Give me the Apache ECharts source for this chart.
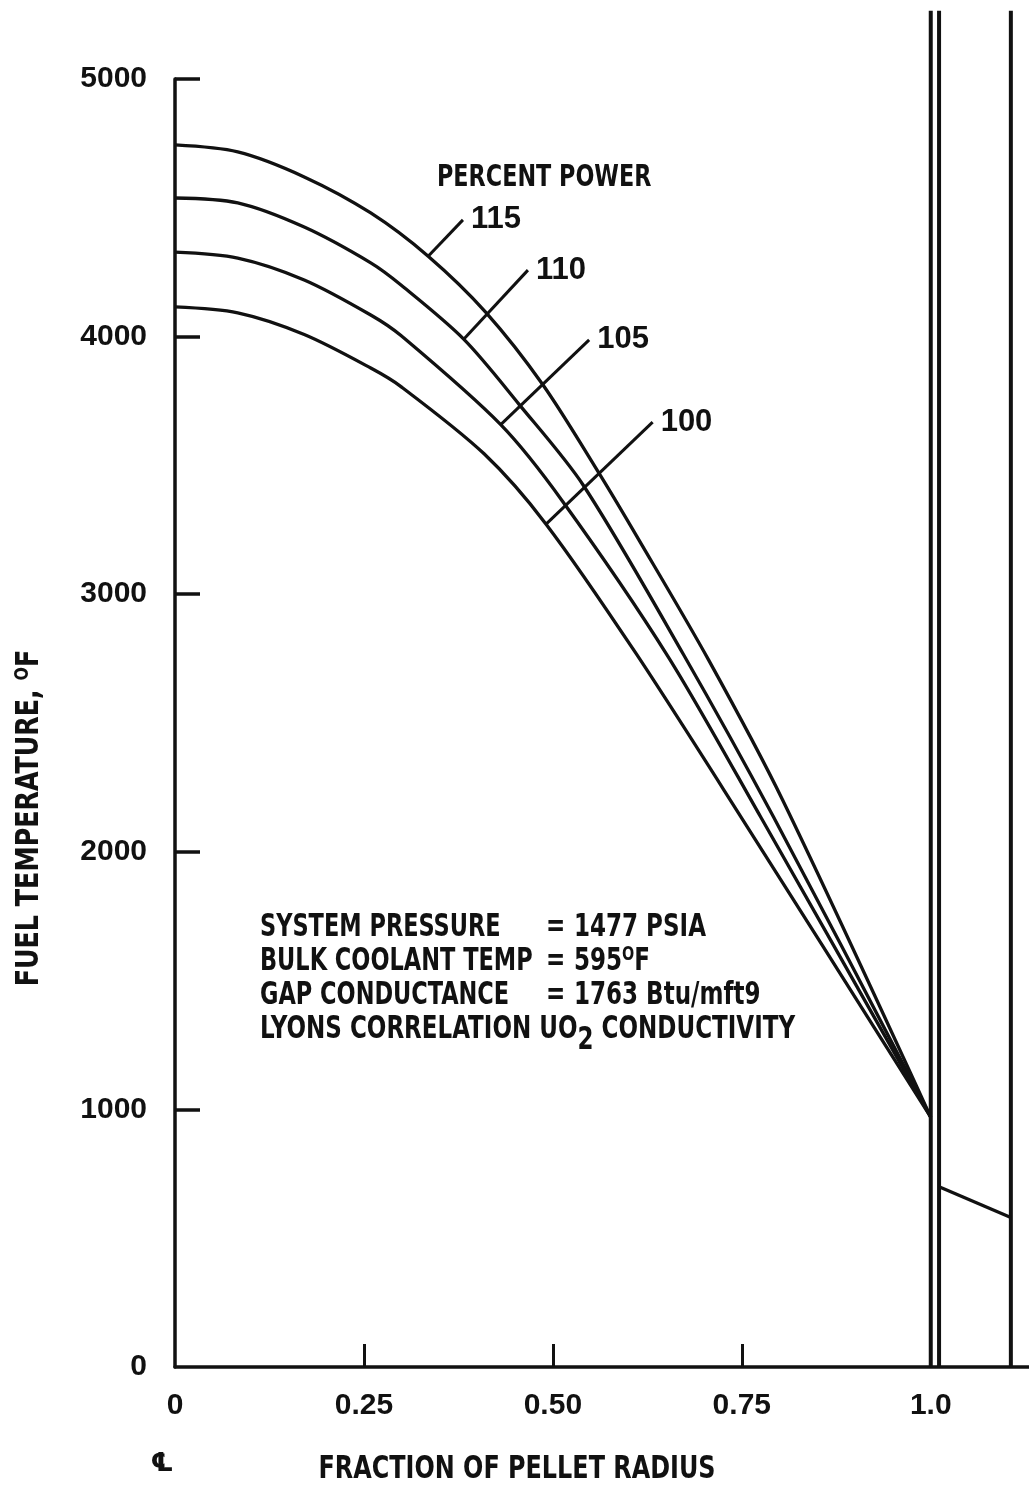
<!DOCTYPE html>
<html>
<head>
<meta charset="utf-8">
<title>Fuel temperature vs fraction of pellet radius</title>
<script src="https://cdn.jsdelivr.net/npm/echarts@6/dist/echarts.min.js"></script>
<style>
  html, body { margin: 0; padding: 0; background: #ffffff; }
  #chart { width: 1029px; height: 1493px; }
</style>
</head>
<body>
<div id="chart"></div>
<script>
// Radial fuel temperature profiles (°F) at four power levels, [fraction of radius, temperature]
const power115 = [[0, 4744], [0.083, 4717], [0.171, 4620], [0.259, 4480], [0.335, 4312], [0.411, 4095], [0.487, 3812], [0.561, 3470], [0.614, 3210], [0.706, 2745], [0.804, 2201], [1.0, 970]];
const power110 = [[0, 4538], [0.083, 4519], [0.171, 4425], [0.259, 4286], [0.299, 4200], [0.382, 3990], [0.455, 3738], [0.540, 3424], [0.673, 2765], [0.792, 2135], [1.0, 970]];
const power105 = [[0, 4328], [0.083, 4305], [0.171, 4220], [0.259, 4084], [0.299, 4004], [0.431, 3658], [0.513, 3360], [0.652, 2760], [0.775, 2135], [1.0, 970]];
const power100 = [[0, 4115], [0.083, 4092], [0.171, 4008], [0.259, 3878], [0.299, 3806], [0.409, 3545], [0.491, 3272], [0.610, 2770], [0.749, 2135], [1.0, 970]];

// Temperature drop across the cladding wall
const cladTemp = [[1.011, 700], [1.106, 580]];

// Pellet surface, cladding inner and outer surfaces (fraction of pellet radius)
const boundaries = [1.0, 1.011, 1.106];
const boundaryTop = 5265;

// Leader lines pointing from each curve to its power label
const powerLabels = ['115', '110', '105', '100'];
const leader115 = [[0.335, 4312], [0.381, 4453]];
const leader110 = [[0.382, 3990], [0.467, 4258]];
const leader105 = [[0.431, 3658], [0.548, 3987]];
const leader100 = [[0.491, 3272], [0.632, 3668]];

// Axis ticks and labels
const xTickValues = [0.25, 0.5, 0.75];
const xLabelValues = [0, 0.25, 0.5, 0.75, 1.0];
const xLabelTexts = ['0', '0.25', '0.50', '0.75', '1.0'];
const yTickValues = [1000, 2000, 3000, 4000, 5000];
const yLabelValues = [0, 1000, 2000, 3000, 4000, 5000];

const INK = '#111111';
const NUM_FONT = '"Liberation Sans", Arial, sans-serif';
const TXT_FONT = '"DejaVu Sans Condensed", "DejaVu Sans", sans-serif';

const chart = echarts.init(document.getElementById('chart'), null, { renderer: 'canvas' });

function curve(name, data) {
  return {
    name: name,
    type: 'line',
    data: data,
    symbol: 'none',
    smooth: 0.3,
    lineStyle: { color: INK, width: 3.3 },
    silent: true,
    z: 3
  };
}

function leader(text, data) {
  return {
    type: 'line',
    data: data,
    symbol: 'none',
    lineStyle: { color: INK, width: 3 },
    endLabel: {
      show: true,
      formatter: text,
      distance: 8,
      color: INK,
      fontFamily: NUM_FONT,
      fontWeight: 'bold',
      fontSize: 31
    },
    silent: true,
    z: 4
  };
}

const boundarySeries = boundaries.map(function (x) {
  return {
    type: 'line',
    data: [[x, 0], [x, boundaryTop]],
    symbol: 'none',
    clip: false,
    lineStyle: { color: INK, width: 4 },
    silent: true,
    z: 5
  };
});

// Lettering for annotations: tall, condensed
const txt = { fill: INK, fontFamily: TXT_FONT, fontWeight: 'bold', fontSize: 32, verticalAlign: 'middle' };
const supStyle = { fontFamily: TXT_FONT, fontWeight: 'bold', fontSize: 20, padding: [0, 0, 14, 0], fill: INK };
const subStyle = { fontFamily: TXT_FONT, fontWeight: 'bold', fontSize: 32, padding: [22, 0, 0, 0], fill: INK };

function note(x, y, text, extra, sx) {
  return {
    type: 'text',
    x: x,
    y: y,
    scaleX: sx || 0.8,
    style: Object.assign({}, txt, { text: text }, extra || {})
  };
}

const option = {
  backgroundColor: '#ffffff',
  animation: false,
  grid: { left: 175, right: 0, top: 79, bottom: 126, containLabel: false },
  xAxis: {
    type: 'value',
    min: 0,
    max: 1.13,
    splitLine: { show: false },
    axisLine: { show: true, onZero: false, lineStyle: { color: INK, width: 3.5 } },
    axisTick: { show: true, inside: true, length: 23, customValues: xTickValues, lineStyle: { color: INK, width: 3 } },
    axisLabel: {
      show: true,
      customValues: xLabelValues,
      margin: 24,
      color: INK,
      fontFamily: NUM_FONT,
      fontWeight: 'bold',
      fontSize: 30,
      formatter: function (v) {
        const i = xLabelValues.indexOf(v);
        return i >= 0 ? xLabelTexts[i] : '';
      }
    }
  },
  yAxis: {
    type: 'value',
    min: 0,
    max: 5000,
    splitLine: { show: false },
    axisLine: { show: true, onZero: false, lineStyle: { color: INK, width: 3.5 } },
    axisTick: { show: true, inside: true, length: 25, customValues: yTickValues, lineStyle: { color: INK, width: 3.5 } },
    axisLabel: {
      show: true,
      customValues: yLabelValues,
      margin: 28,
      color: INK,
      fontFamily: NUM_FONT,
      fontWeight: 'bold',
      fontSize: 30,
      formatter: function (v) { return String(v); }
    }
  },
  series: [
    curve('115', power115),
    curve('110', power110),
    curve('105', power105),
    curve('100', power100),
    {
      type: 'line',
      data: cladTemp,
      symbol: 'none',
      lineStyle: { color: INK, width: 3.3 },
      silent: true,
      z: 3
    },
    leader(powerLabels[0], leader115),
    leader(powerLabels[1], leader110),
    leader(powerLabels[2], leader105),
    leader(powerLabels[3], leader100)
  ].concat(boundarySeries),
  graphic: [
    note(437, 178, 'PERCENT POWER', { fontSize: 31 }),
    note(260, 928, 'SYSTEM PRESSURE', null, 0.78),
    note(260, 962, 'BULK COOLANT TEMP', null, 0.78),
    note(260, 996, 'GAP CONDUCTANCE', null, 0.78),
    note(546, 928, '='),
    note(546, 962, '='),
    note(546, 996, '='),
    note(574, 928, '1477 PSIA'),
    note(574, 962, '595{sup|O}F', { rich: { sup: supStyle } }),
    note(574, 996, '1763 Btu/mft9'),
    note(260, 1030, 'LYONS CORRELATION UO{sub|2} CONDUCTIVITY', { rich: { sub: subStyle } }),
    {
      type: 'text',
      x: 30,
      y: 818,
      rotation: Math.PI / 2,
      scaleX: 0.88,
      style: Object.assign({}, txt, {
        text: 'FUEL TEMPERATURE, {sup|O}F',
        align: 'center',
        rich: { sup: supStyle }
      })
    },
    {
      type: 'text',
      x: 517,
      y: 1470,
      scaleX: 0.83,
      style: Object.assign({}, txt, { text: 'FRACTION OF PELLET RADIUS', align: 'center' })
    },
    {
      type: 'text',
      x: 162,
      y: 1464,
      style: Object.assign({}, txt, { text: '\u2104', fontFamily: '"DejaVu Sans", sans-serif', fontSize: 26, align: 'center' })
    }
  ]
};

chart.setOption(option);
</script>
</body>
</html>
